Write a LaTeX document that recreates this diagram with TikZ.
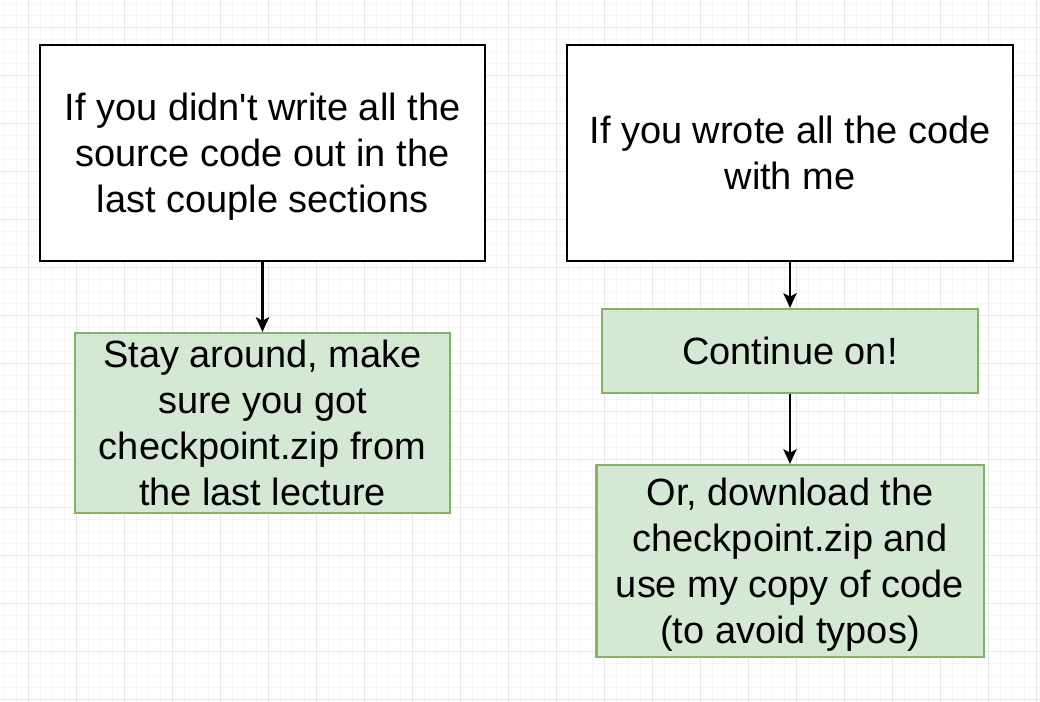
\documentclass[tikz,border=0pt]{standalone}
\usepackage{fontspec}
\setmainfont{Liberation Sans}[Ligatures=TeXOff]
\usepackage{xcolor}
\usepackage{tikz}
\usetikzlibrary{arrows.meta}

\definecolor{boxgreen}{HTML}{D5E8D4}
\definecolor{boxgreenline}{HTML}{82B366}
\definecolor{gridminor}{HTML}{F6F6F6}
\definecolor{gridmajor}{HTML}{E8E8E8}

\begin{document}
\begin{tikzpicture}[x=0.025cm, y=-0.025cm,
    plainbox/.style={draw=black, line width=1.5pt, fill=white, align=center,
        font=\fontsize{27}{32.7}\selectfont, inner sep=0pt},
    greenbox/.style={draw=boxgreenline, line width=1.5pt, fill=boxgreen, align=center,
        font=\fontsize{27}{32.7}\selectfont, inner sep=0pt},
    nodepth/.style={text depth=0pt},
    flow/.style={line width=1.7pt, -{Stealth[length=10.5pt, width=9.5pt, inset=2.5pt]}}]
    \useasboundingbox (0,0) rectangle (1040,702);
    \fill[white] (0,0) rectangle (1040,702);

    % Background grid
    \foreach \gx in {4,16,...,1040} \draw[gridminor, line width=0.5pt] (\gx,0) -- (\gx,702);
    \foreach \gy in {3,15,...,702} \draw[gridminor, line width=0.5pt] (0,\gy) -- (1040,\gy);
    \foreach \gx in {28,76,...,1040} \draw[gridmajor, line width=0.6pt] (\gx,0) -- (\gx,702);
    \foreach \gy in {27,75,...,702} \draw[gridmajor, line width=0.6pt] (0,\gy) -- (1040,\gy);

    % Boxes
    \node[plainbox, nodepth, minimum width=11.125cm, minimum height=5.4cm] (notwritten) at (262.5,153)
        {If you didn't write all the\\source code out in the\\last couple sections};
    \node[plainbox, minimum width=11.15cm, minimum height=5.4cm] (wrote) at (790,153)
        {If you wrote all the code\\with me};
    \node[greenbox, minimum width=9.375cm, minimum height=4.5cm] (stay) at (262.5,423)
        {Stay around, make\\sure you got\\checkpoint.zip from\\the last lecture};
    \node[greenbox, minimum width=9.4cm, minimum height=2.1cm] (continue) at (790,351)
        {Continue on!};
    \node[greenbox, nodepth, minimum width=9.675cm, minimum height=4.8cm] (download) at (790,561)
        {Or, download the\\checkpoint.zip and\\use my copy of code\\(to avoid typos)};

    % Arrows
    \draw[flow] (notwritten.south) -- (stay.north);
    \draw[flow] (wrote.south) -- (continue.north);
    \draw[flow] (continue.south) -- (download.north);
\end{tikzpicture}
\end{document}
